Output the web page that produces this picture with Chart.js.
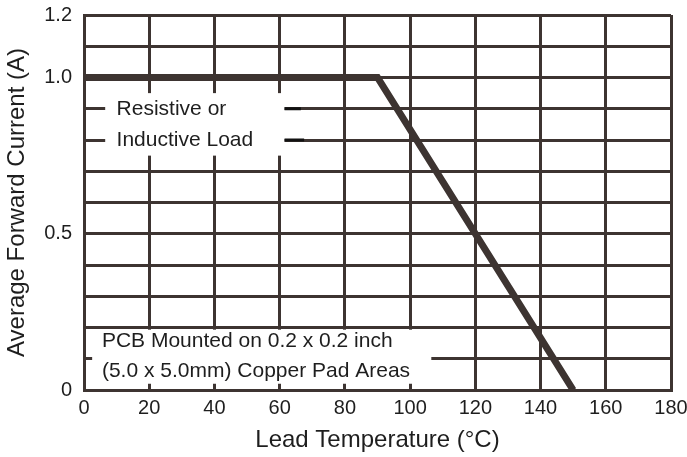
<!DOCTYPE html>
<html>
<head>
<meta charset="utf-8">
<script src="https://cdn.jsdelivr.net/npm/chart.js@4.4.0/dist/chart.umd.min.js"></script>
<style>
  html, body { margin: 0; padding: 0; background: #fff; }
  #wrap { width: 687px; height: 457px; }
</style>
</head>
<body>
<div id="wrap"><canvas id="derating" width="687" height="457"></canvas></div>
<script>
// --- chart data ---
const leadTemp = [0, 90, 150];          // °C
const fwdCurrent = [1.0, 1.0, 0];       // A
const yLabelValues = [0, 0.5, 1.0, 1.2];
const yLabelText = ['0', '0.5', '1.0', '1.2'];
const loadNote = ['Resistive or', 'Inductive Load'];
const pcbNote = ['PCB Mounted on 0.2 x 0.2 inch', '(5.0 x 5.0mm) Copper Pad Areas'];

const ink = '#3d3431';
const textInk = '#1e1e1e';
const fontFam = '"Liberation Sans", Arial, Helvetica, sans-serif';

// white label boxes punched into the grid (in data units)
const notesPlugin = {
  id: 'notes',
  beforeDatasetsDraw(chart) {
    const ctx = chart.ctx;
    const xs = chart.scales.x, ys = chart.scales.y;
    const px = v => xs.getPixelForValue(v);
    const py = v => ys.getPixelForValue(v);
    ctx.save();
    ctx.fillStyle = '#fff';
    // upper note box
    ctx.fillRect(px(6.5), py(0.95), px(61.5) - px(6.5), py(0.75) - py(0.95));
    // lower note box
    ctx.fillRect(px(2.5), py(0.193), px(106.5) - px(2.5), py(0.02) - py(0.193));

    // short dark dashes after the upper note
    ctx.strokeStyle = '#111';
    ctx.lineWidth = 3;
    ctx.beginPath();
    ctx.moveTo(px(61.5), py(0.9)); ctx.lineTo(px(66.5), py(0.9));
    ctx.moveTo(px(61.5), py(0.8)); ctx.lineTo(px(67.5), py(0.8));
    ctx.stroke();

    ctx.fillStyle = textInk;
    ctx.font = '21px ' + fontFam;
    ctx.textBaseline = 'middle';
    ctx.textAlign = 'left';
    ctx.fillText(loadNote[0], px(10), py(0.9));
    ctx.fillText(loadNote[1], px(10), py(0.8));
    ctx.fillText(pcbNote[0], px(5.5), py(0.155));
    ctx.fillText(pcbNote[1], px(5.5), py(0.06));
    ctx.restore();
  }
};

new Chart(document.getElementById('derating'), {
  type: 'scatter',
  data: {
    datasets: [{
      data: leadTemp.map((t, i) => ({ x: t, y: fwdCurrent[i] })),
      showLine: true,
      borderColor: ink,
      borderWidth: 7,
      pointRadius: 0,
      tension: 0,
      borderJoinStyle: 'miter'
    }]
  },
  options: {
    responsive: false,
    animation: false,
    layout: { padding: { left: 3, top: 15, right: 16, bottom: 0 } },
    plugins: { legend: { display: false }, tooltip: { enabled: false } },
    scales: {
      x: {
        type: 'linear',
        min: 0, max: 180,
        ticks: { stepSize: 20, padding: 6, color: textInk, font: { size: 20, family: fontFam } },
        grid: { color: ink, lineWidth: 3, drawTicks: false },
        border: { color: ink, width: 3 },
        title: {
          display: true, text: 'Lead Temperature (°C)', color: textInk,
          font: { size: 24, family: fontFam }, padding: { top: 0, bottom: 2 }
        },
        afterFit(scale) {
          scale.height = 67;
          scale.paddingLeft = 0;
          scale.paddingRight = 0;
        }
      },
      y: {
        type: 'linear',
        min: 0, max: 1.2,
        ticks: {
          stepSize: 0.1, padding: 12, color: textInk, font: { size: 20, family: fontFam },
          callback(v) {
            const i = yLabelValues.findIndex(l => Math.abs(l - v) < 1e-6);
            return i >= 0 ? yLabelText[i] : '';
          }
        },
        grid: { color: ink, lineWidth: 3, drawTicks: false },
        border: { color: ink, width: 3 },
        title: {
          display: true, text: 'Average Forward Current (A)', color: textInk,
          font: { size: 24, family: fontFam }, padding: { top: 0, bottom: 0 }
        },
        afterFit(scale) {
          scale.width = 81;
          scale.paddingTop = 0;
          scale.paddingBottom = 0;
        }
      }
    }
  },
  plugins: [notesPlugin]
});
</script>
</body>
</html>
